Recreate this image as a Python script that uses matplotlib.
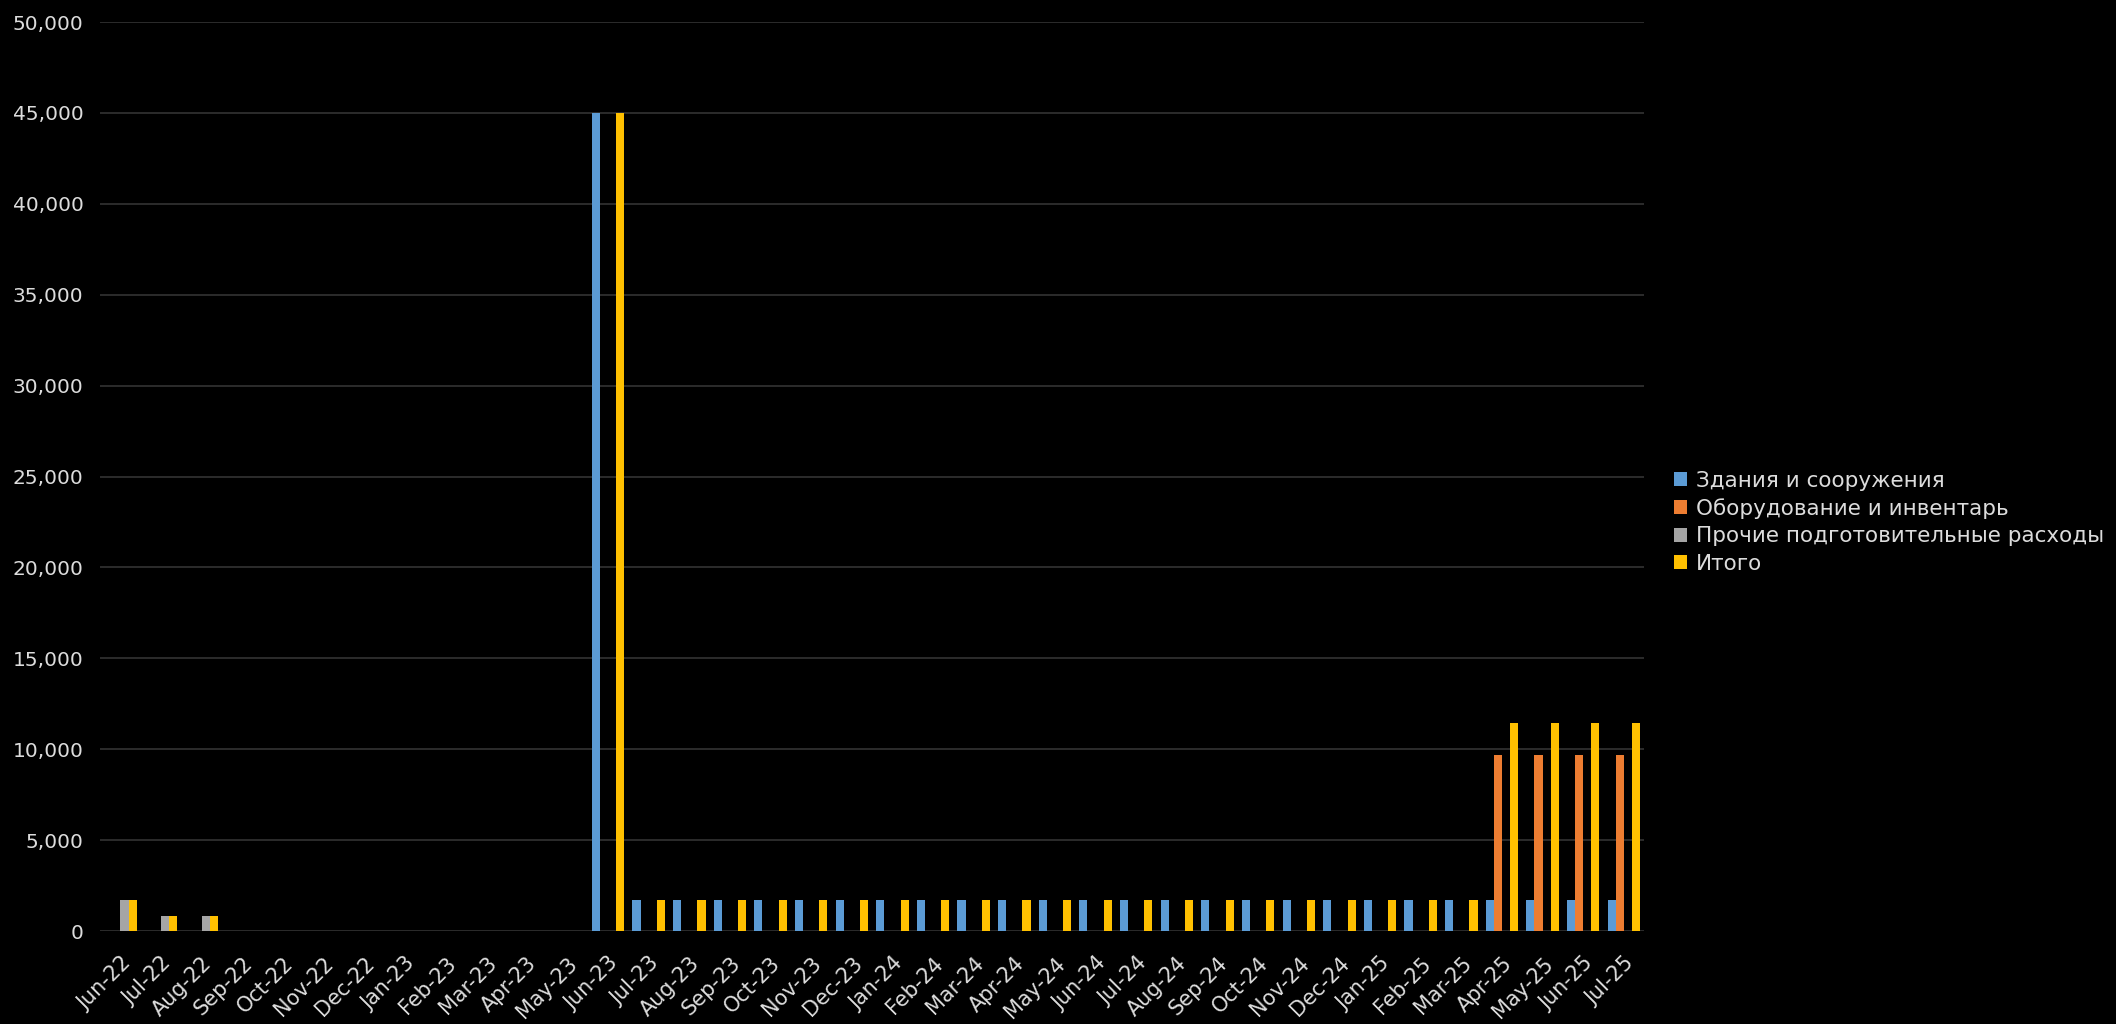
import matplotlib.pyplot as plt
import numpy as np

# months Jun-22 .. Jul-25
months = ['Jun-22', 'Jul-22', 'Aug-22', 'Sep-22', 'Oct-22', 'Nov-22', 'Dec-22',
          'Jan-23', 'Feb-23', 'Mar-23', 'Apr-23', 'May-23', 'Jun-23', 'Jul-23',
          'Aug-23', 'Sep-23', 'Oct-23', 'Nov-23', 'Dec-23', 'Jan-24', 'Feb-24',
          'Mar-24', 'Apr-24', 'May-24', 'Jun-24', 'Jul-24', 'Aug-24', 'Sep-24',
          'Oct-24', 'Nov-24', 'Dec-24', 'Jan-25', 'Feb-25', 'Mar-25', 'Apr-25',
          'May-25', 'Jun-25', 'Jul-25']

zdaniya = [0, 0, 0, 0, 0, 0, 0, 0, 0, 0, 0, 0, 45000] + [1700] * 25
oborudovanie = [0] * 34 + [9700, 9700, 9700, 9700]
prochie = [1700, 850, 850] + [0] * 35
itogo = [1700, 850, 850, 0, 0, 0, 0, 0, 0, 0, 0, 0, 45000] + [1700] * 21 + [11450] * 4

series_names = ['Здания и сооружения', 'Оборудование и инвентарь',
                'Прочие подготовительные расходы', 'Итого']
colors = ['#5B9BD5', '#ED7D31', '#A5A5A5', '#FFC000']

txt = '#dcdcdc'
fig = plt.figure(figsize=(21.16, 10.24), dpi=100, facecolor='black')
ax = fig.add_axes([0.0473, 0.0908, 0.7297, 0.8877], facecolor='black')

x = np.arange(len(months))
w = 0.2
for i, (vals, name, c) in enumerate(zip([zdaniya, oborudovanie, prochie, itogo], series_names, colors)):
    ax.bar(x + (i - 1.5) * w, vals, width=w, color=c, label=name, zorder=3)

ax.set_xlim(-0.5, len(months) - 0.5)
ax.set_ylim(0, 50000)
ax.set_yticks(np.arange(0, 50001, 5000))
ax.set_yticklabels([f'{v:,}' for v in range(0, 50001, 5000)])
ax.set_xticks(x)
ax.set_xticklabels(months, rotation=45, ha='right', rotation_mode='anchor')

ax.grid(axis='y', color='#333333', linewidth=1.2, zorder=0)
for s in ax.spines.values():
    s.set_visible(False)
ax.axhline(0, color='#2a2a2a', linewidth=2, zorder=2)
ax.tick_params(axis='both', length=0, colors=txt)
ax.tick_params(axis='y', pad=12, labelsize=14.5)
ax.tick_params(axis='x', pad=16, labelsize=15)

leg = ax.legend(loc='center left', bbox_to_anchor=(0.782, 0.49), bbox_transform=fig.transFigure,
                frameon=False, fontsize=15.5, handlelength=0.62, handleheight=0.62,
                handletextpad=0.4, labelspacing=0.35)
for t in leg.get_texts():
    t.set_color(txt)

fig.savefig('out.png', dpi=100, facecolor='black')
